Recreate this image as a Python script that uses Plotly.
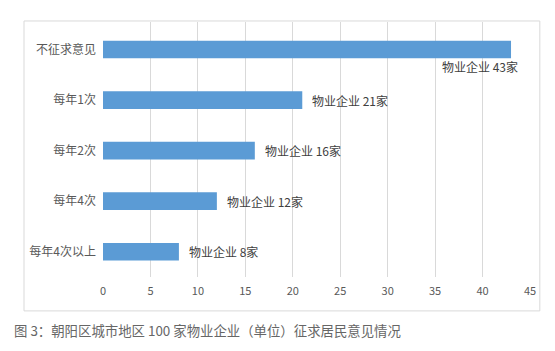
import plotly.graph_objects as go

categories = ["不征求意见", "每年1次", "每年2次", "每年4次", "每年4次以上"]
values = [43, 21, 16, 12, 8]
label_prefix = "物业企业 "
label_suffix = "家"
caption = "图 3：朝阳区城市地区 100 家物业企业（单位）征求居民意见情况"

font = "Noto Sans CJK SC"
fig = go.Figure()
fig.add_trace(go.Bar(
    x=values, y=categories, orientation="h",
    marker=dict(color="#5b9bd5", line=dict(width=0)),
    width=0.35, hoverinfo="skip",
))

for i, (c, v) in enumerate(zip(categories, values)):
    below = v > 40
    fig.add_annotation(
        x=v, y=c, xref="x", yref="y",
        text=f"{label_prefix}{v}{label_suffix}",
        showarrow=False,
        xanchor="right" if below else "left",
        yanchor="middle",
        xshift=9 if below else 8,
        yshift=-17 if below else 0,
        font=dict(family=font, size=12, color="#404040"),
    )

fig.add_shape(type="rect", xref="paper", yref="paper",
              x0=-0.185, x1=1.023, y0=-0.133, y1=1.004,
              line=dict(color="#d9d9d9", width=1), layer="below")

fig.add_annotation(
    text=caption, xref="paper", yref="paper",
    x=-0.213, y=-0.208, xanchor="left", yanchor="middle",
    showarrow=False, font=dict(family=font, size=13.4, color="#666666"),
)

fig.update_layout(
    width=555, height=351,
    margin=dict(l=103, r=25, t=22, b=74),
    paper_bgcolor="white", plot_bgcolor="white",
    showlegend=False,
    xaxis=dict(range=[0, 45], dtick=5, showgrid=True, gridcolor="#d9d9d9",
               zeroline=False, showline=False, ticklabelstandoff=6,
               tickfont=dict(family=font, size=11, color="#595959"), ticks=""),
    yaxis=dict(categoryorder="array", categoryarray=categories, autorange="reversed",
               showgrid=False, zeroline=False, showline=False, ticks="",
               ticklabelstandoff=6,
               tickfont=dict(family=font, size=12, color="#595959")),
)

fig.write_html("out.html")
